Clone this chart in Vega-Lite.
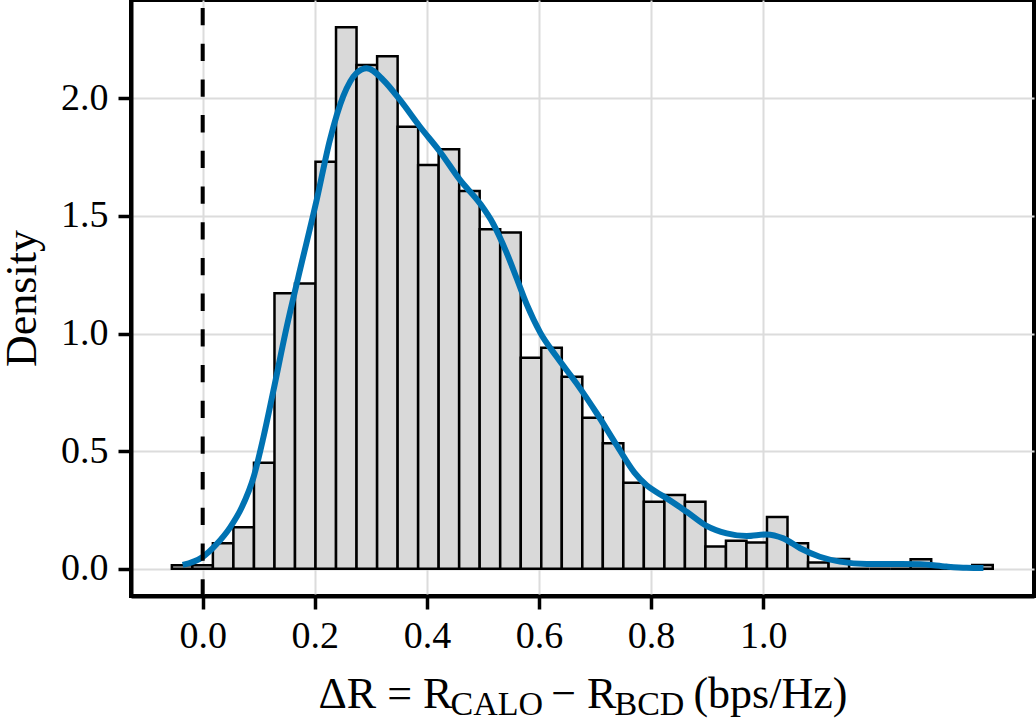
{
  "$schema": "https://vega.github.io/schema/vega-lite/v6.json",
  "width": 903,
  "height": 596,
  "autosize": {"type": "none"},
  "padding": {"left": 131, "top": 0, "right": 2, "bottom": 124},
  "background": "white",
  "datasets": {
    "bins": [
      {"bin_start": -0.0550, "bin_end": -0.0184, "density": 0.015},
      {"bin_start": -0.0184, "bin_end": 0.0182, "density": 0.015},
      {"bin_start": 0.0182, "bin_end": 0.0548, "density": 0.108},
      {"bin_start": 0.0548, "bin_end": 0.0915, "density": 0.176},
      {"bin_start": 0.0915, "bin_end": 0.1281, "density": 0.451},
      {"bin_start": 0.1281, "bin_end": 0.1647, "density": 1.171},
      {"bin_start": 0.1647, "bin_end": 0.2013, "density": 1.213},
      {"bin_start": 0.2013, "bin_end": 0.2379, "density": 1.730},
      {"bin_start": 0.2379, "bin_end": 0.2745, "density": 2.302},
      {"bin_start": 0.2745, "bin_end": 0.3112, "density": 2.142},
      {"bin_start": 0.3112, "bin_end": 0.3478, "density": 2.179},
      {"bin_start": 0.3478, "bin_end": 0.3844, "density": 1.879},
      {"bin_start": 0.3844, "bin_end": 0.4210, "density": 1.716},
      {"bin_start": 0.4210, "bin_end": 0.4576, "density": 1.783},
      {"bin_start": 0.4576, "bin_end": 0.4942, "density": 1.606},
      {"bin_start": 0.4942, "bin_end": 0.5308, "density": 1.443},
      {"bin_start": 0.5308, "bin_end": 0.5675, "density": 1.430},
      {"bin_start": 0.5675, "bin_end": 0.6041, "density": 0.897},
      {"bin_start": 0.6041, "bin_end": 0.6407, "density": 0.940},
      {"bin_start": 0.6407, "bin_end": 0.6773, "density": 0.816},
      {"bin_start": 0.6773, "bin_end": 0.7139, "density": 0.642},
      {"bin_start": 0.7139, "bin_end": 0.7505, "density": 0.533},
      {"bin_start": 0.7505, "bin_end": 0.7871, "density": 0.366},
      {"bin_start": 0.7871, "bin_end": 0.8238, "density": 0.285},
      {"bin_start": 0.8238, "bin_end": 0.8604, "density": 0.313},
      {"bin_start": 0.8604, "bin_end": 0.8970, "density": 0.285},
      {"bin_start": 0.8970, "bin_end": 0.9336, "density": 0.094},
      {"bin_start": 0.9336, "bin_end": 0.9702, "density": 0.119},
      {"bin_start": 0.9702, "bin_end": 1.0068, "density": 0.111},
      {"bin_start": 1.0068, "bin_end": 1.0434, "density": 0.220},
      {"bin_start": 1.0434, "bin_end": 1.0801, "density": 0.108},
      {"bin_start": 1.0801, "bin_end": 1.1167, "density": 0.026},
      {"bin_start": 1.1167, "bin_end": 1.1533, "density": 0.041},
      {"bin_start": 1.1533, "bin_end": 1.1899, "density": 0},
      {"bin_start": 1.1899, "bin_end": 1.2265, "density": 0},
      {"bin_start": 1.2265, "bin_end": 1.2631, "density": 0},
      {"bin_start": 1.2631, "bin_end": 1.2998, "density": 0.040},
      {"bin_start": 1.2998, "bin_end": 1.3364, "density": 0},
      {"bin_start": 1.3364, "bin_end": 1.3730, "density": 0},
      {"bin_start": 1.3730, "bin_end": 1.4096, "density": 0.016}
    ],
    "kde": [
      {"x": -0.0357, "density": 0.016},
      {"x": 0.0, "density": 0.050},
      {"x": 0.025, "density": 0.105},
      {"x": 0.0487, "density": 0.175},
      {"x": 0.070, "density": 0.262},
      {"x": 0.0915, "density": 0.395},
      {"x": 0.108, "density": 0.555},
      {"x": 0.126, "density": 0.755},
      {"x": 0.150, "density": 1.029},
      {"x": 0.1706, "density": 1.240},
      {"x": 0.2034, "density": 1.568},
      {"x": 0.227, "density": 1.823},
      {"x": 0.251, "density": 2.010},
      {"x": 0.2748, "density": 2.108},
      {"x": 0.2926, "density": 2.128},
      {"x": 0.322, "density": 2.078},
      {"x": 0.352, "density": 1.993},
      {"x": 0.3877, "density": 1.879},
      {"x": 0.4234, "density": 1.773},
      {"x": 0.459, "density": 1.653},
      {"x": 0.4947, "density": 1.553},
      {"x": 0.518, "density": 1.468},
      {"x": 0.542, "density": 1.345},
      {"x": 0.560, "density": 1.236},
      {"x": 0.578, "density": 1.125},
      {"x": 0.602, "density": 1.005},
      {"x": 0.6316, "density": 0.901},
      {"x": 0.667, "density": 0.788},
      {"x": 0.703, "density": 0.661},
      {"x": 0.7386, "density": 0.525},
      {"x": 0.770, "density": 0.410},
      {"x": 0.792, "density": 0.355},
      {"x": 0.810, "density": 0.325},
      {"x": 0.828, "density": 0.299},
      {"x": 0.8635, "density": 0.242},
      {"x": 0.899, "density": 0.182},
      {"x": 0.935, "density": 0.150},
      {"x": 0.9705, "density": 0.139},
      {"x": 1.006, "density": 0.146},
      {"x": 1.036, "density": 0.129},
      {"x": 1.066, "density": 0.087},
      {"x": 1.101, "density": 0.051},
      {"x": 1.137, "density": 0.030},
      {"x": 1.185, "density": 0.020},
      {"x": 1.232, "density": 0.020},
      {"x": 1.280, "density": 0.019},
      {"x": 1.327, "density": 0.009},
      {"x": 1.363, "density": 0.004},
      {"x": 1.393, "density": 0.003}
    ],
    "reference": [{"x": 0}]
  },
  "config": {
    "font": "Liberation Serif",
    "view": {"stroke": "black", "strokeWidth": 4},
    "axis": {
      "labelFont": "Liberation Serif",
      "titleFont": "Liberation Serif",
      "labelColor": "black",
      "titleColor": "black",
      "titleFontWeight": "normal"
    }
  },
  "resolve": {"axis": {"x": "independent"}},
  "layer": [
    {
      "data": {"name": "bins"},
      "mark": {"type": "rect", "fill": "#d9d9d9", "stroke": "black", "strokeWidth": 2.5},
      "encoding": {
        "x": {
          "field": "bin_start",
          "type": "quantitative",
          "scale": {"domain": [-0.1279, 1.4832], "nice": false, "zero": false},
          "axis": {
            "orient": "bottom",
            "values": [0, 0.2, 0.4, 0.6, 0.8, 1.0],
            "format": ".1f",
            "labelFontSize": 38,
            "labelPadding": 8,
            "tickSize": 13,
            "tickWidth": 3.5,
            "tickColor": "black",
            "domainColor": "black",
            "domainWidth": 4,
            "grid": true,
            "gridColor": "#dcdcdc",
            "gridWidth": 2,
            "title": "ΔR\u00a0=\u00a0R\u00a0\u00a0\u00a0\u00a0\u00a0\u00a0\u00a0\u00a0\u00a0−\u00a0R\u00a0\u00a0\u00a0\u00a0\u00a0\u00a0\u00a0(bps/Hz)",
            "titleFontSize": 44,
            "titleAlign": "left",
            "titleBaseline": "alphabetic",
            "titleX": 187,
            "titleY": 111
          }
        },
        "x2": {"field": "bin_end"},
        "y": {
          "field": "density",
          "type": "quantitative",
          "scale": {"domain": [-0.116, 2.418], "nice": false, "zero": false},
          "axis": {
            "values": [0, 0.5, 1.0, 1.5, 2.0],
            "format": ".1f",
            "labelFontSize": 38,
            "labelPadding": 10,
            "tickSize": 13,
            "tickWidth": 3.5,
            "tickColor": "black",
            "domainColor": "black",
            "domainWidth": 4,
            "grid": true,
            "gridColor": "#dcdcdc",
            "gridWidth": 2,
            "title": "Density",
            "titleFontSize": 44,
            "titleAngle": 270,
            "titleAlign": "center",
            "titleBaseline": "alphabetic",
            "titleX": -96,
            "titleY": 298
          }
        },
        "y2": {"datum": 0}
      }
    },
    {
      "data": {"name": "kde"},
      "mark": {"type": "line", "color": "#0072B2", "strokeWidth": 6, "interpolate": "monotone"},
      "encoding": {
        "x": {
          "field": "x",
          "type": "quantitative",
          "axis": {
            "orient": "bottom",
            "labels": false,
            "ticks": false,
            "domain": false,
            "grid": false,
            "title": "CALO",
            "titleFontSize": 34,
            "titleAlign": "left",
            "titleBaseline": "alphabetic",
            "titleX": 319,
            "titleY": 118
          }
        },
        "y": {"field": "density", "type": "quantitative", "title": "Density"}
      }
    },
    {
      "data": {"name": "reference"},
      "mark": {"type": "rule", "color": "black", "strokeWidth": 4, "strokeDash": [17.3, 18.4], "strokeDashOffset": 27.7},
      "encoding": {
        "x": {
          "field": "x",
          "type": "quantitative",
          "axis": {
            "orient": "bottom",
            "labels": false,
            "ticks": false,
            "domain": false,
            "grid": false,
            "title": "BCD",
            "titleFontSize": 34,
            "titleAlign": "left",
            "titleBaseline": "alphabetic",
            "titleX": 483,
            "titleY": 118
          }
        }
      }
    }
  ]
}
